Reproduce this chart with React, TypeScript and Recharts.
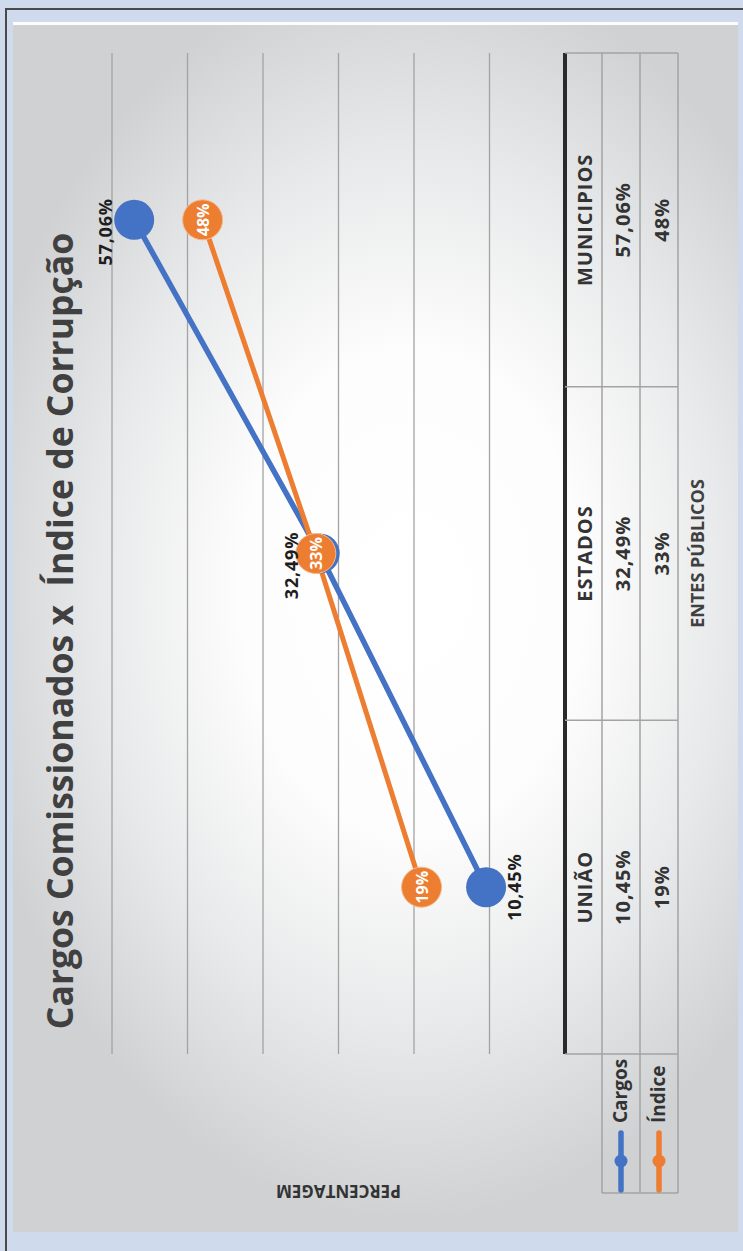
import { LineChart, Line, XAxis, YAxis, ReferenceLine, LabelList } from "recharts";

// data
const CATEGORIES = ["UNIÃO", "ESTADOS", "MUNICIPIOS"];
const CARGOS = [10.45, 32.49, 57.06];
const INDICE = [19, 33, 48];
const Y_TICKS = [0, 10, 20, 30, 40, 50, 60];
const SERIES_NAMES = ["Cargos", "Índice"];

const BLUE = "#4472C4";
const ORANGE = "#ED7D31";
const FONT = "'Open Sans', 'DejaVu Sans', sans-serif";

// the chart is drawn landscape and turned a quarter turn to the left
const W = 1251;
const H = 743;
const PLOT = { left: 197, right: 1198, top: 112, bottom: 565 };
const BAND = (PLOT.right - PLOT.left) / CATEGORIES.length;
const ROW = [PLOT.bottom, PLOT.bottom + 37, PLOT.bottom + 75, PLOT.bottom + 113];
const GRID = "#a3a3a3";

const data = CATEGORIES.map((name, i) => ({ name, cargos: CARGOS[i], indice: INDICE[i] }));

const fmtCargos = (v: number) => v.toFixed(2).replace(".", ",") + "%";
const fmtIndice = (v: number) => `${v}%`;

function TableTick(props: any) {
  const { x, index } = props;
  const l = x - BAND / 2;
  const r = x + BAND / 2;
  const txt = { fontFamily: FONT, fill: "#333", textAnchor: "middle" as const };
  return (
    <g>
      {[ROW[1], ROW[2], ROW[3]].map((y) => (
        <line key={y} x1={l} x2={r} y1={y} y2={y} stroke={GRID} strokeWidth={1.5} />
      ))}
      <line x1={r} x2={r} y1={ROW[0]} y2={ROW[3]} stroke={GRID} strokeWidth={1.5} />
      {index === 0 && <line x1={l} x2={l} y1={ROW[0]} y2={ROW[3]} stroke={GRID} strokeWidth={1.5} />}
      <text {...txt} x={x} y={ROW[0] + 27} fontSize={20} fontWeight={700} letterSpacing={1}>
        {CATEGORIES[index]}
      </text>
      <text {...txt} x={x} y={ROW[1] + 28} fontSize={20} fontWeight={700} letterSpacing={1}>
        {fmtCargos(CARGOS[index])}
      </text>
      <text {...txt} x={x} y={ROW[2] + 29} fontSize={20} fontWeight={700} letterSpacing={1}>
        {fmtIndice(INDICE[index])}
      </text>
      {index === 0 && (
        <g>
          {/* legend cells left of the table */}
          <line x1={l - 139} x2={l} y1={ROW[1]} y2={ROW[1]} stroke={GRID} strokeWidth={1.5} />
          <line x1={l - 139} x2={l} y1={ROW[2]} y2={ROW[2]} stroke={GRID} strokeWidth={1.5} />
          <line x1={l - 139} x2={l} y1={ROW[3]} y2={ROW[3]} stroke={GRID} strokeWidth={1.5} />
          <line x1={l - 139} x2={l - 139} y1={ROW[1]} y2={ROW[3]} stroke={GRID} strokeWidth={1.5} />
          {[BLUE, ORANGE].map((c, i) => {
            const cy = (ROW[i + 1] + ROW[i + 2]) / 2;
            return (
              <g key={c}>
                <line x1={l - 136} x2={l - 79} y1={cy} y2={cy} stroke={c} strokeWidth={5.5} strokeLinecap="round" />
                <circle cx={l - 107} cy={cy} r={6.5} fill={c} />
                <text x={l - 69} y={cy + 6} fontFamily={FONT} fontSize={19} fontWeight={700} fill="#333">
                  {SERIES_NAMES[i]}
                </text>
              </g>
            );
          })}
        </g>
      )}
    </g>
  );
}

function CargosLabel(props: any) {
  const { x, y, value, index } = props;
  const below = index === 0;
  return (
    <text
      x={below ? x : x - 12}
      y={below ? y + 35 : y - 22}
      textAnchor="middle"
      fontFamily={FONT}
      fontSize={18}
      fontWeight={700}
      letterSpacing={0.8}
      fill="#1e1e1e"
    >
      {fmtCargos(Number(value))}
    </text>
  );
}

function IndiceLabel(props: any) {
  const { x, y, value } = props;
  return (
    <text x={x} y={y + 6} textAnchor="middle" fontFamily={FONT} fontSize={16} fontWeight={700} fill="#fff">
      {fmtIndice(Number(value))}
    </text>
  );
}

function ValueTitle(props: any) {
  const vb = props.viewBox ?? { x: 0, y: PLOT.top, width: PLOT.left, height: PLOT.bottom - PLOT.top };
  const x = vb.x + 66;
  const y = vb.y + vb.height / 2;
  return (
    <text
      x={x}
      y={y}
      transform={`rotate(-90 ${x} ${y})`}
      textAnchor="middle"
      fontFamily={FONT}
      fontSize={17}
      fontWeight={700}
      fill="#333"
    >
      PERCENTAGEM
    </text>
  );
}

function CategoryTitle(props: any) {
  const vb = props.viewBox ?? { x: PLOT.left, y: PLOT.bottom, width: PLOT.right - PLOT.left, height: H - PLOT.bottom };
  return (
    <text
      x={vb.x + vb.width / 2}
      y={vb.y + 139}
      textAnchor="middle"
      fontFamily={FONT}
      fontSize={18}
      fontWeight={700}
      fill="#404040"
    >
      ENTES PÚBLICOS
    </text>
  );
}

export default function App() {
  return (
    <div style={{ position: "absolute", left: 0, top: 0, width: H, height: W, background: "#cfdbed", overflow: "hidden" }}>
      <div style={{ position: "absolute", left: 5, top: 8, width: 2, height: W - 8, background: "#4a4a4a" }} />
      <div style={{ position: "absolute", left: 5, top: 8, width: H - 5, height: 2, background: "#4a4a4a" }} />
      <div
        style={{
          position: "absolute",
          left: 13,
          top: 22,
          width: 725,
          height: 1210,
          borderTop: "3px solid #fdfdfd",
          boxSizing: "border-box",
          background:
            "radial-gradient(ellipse 62% 52% at 55% 47%, #ffffff 0%, #fdfdfd 38%, #e8e9ea 70%, #cfd1d3 100%)",
        }}
      />
      <div
        style={{
          position: "absolute",
          left: 0,
          top: 0,
          width: W,
          height: H,
          transformOrigin: "0 0",
          transform: `translateY(${W}px) rotate(-90deg)`,
        }}
      >
        <svg width={W} height={H} style={{ position: "absolute", left: 0, top: 0 }}>
          <text
            x={620}
            y={73}
            textAnchor="middle"
            fontFamily={FONT}
            fontSize={35.5}
            fontWeight={700}
            fill="#404040"
            style={{ whiteSpace: "pre" }}
          >
            Cargos Comissionados x  Índice de Corrupção
          </text>
        </svg>
        <div style={{ position: "absolute", left: 0, top: 0 }}>
          <LineChart width={W} height={H} data={data} margin={{ top: PLOT.top, right: W - PLOT.right, bottom: 0, left: 0 }}>
            {Y_TICKS.slice(1).map((t) => (
              <ReferenceLine key={t} y={t} stroke={GRID} strokeWidth={1.3} />
            ))}
            <XAxis
              dataKey="name"
              height={H - PLOT.bottom}
              padding={{ left: BAND / 2, right: BAND / 2 }}
              interval={0}
              tickLine={false}
              tickSize={0}
              axisLine={{ stroke: "#2a2a2a", strokeWidth: 4 }}
              tick={<TableTick />}
              label={<CategoryTitle />}
            />
            <YAxis
              width={PLOT.left}
              domain={[0, 60]}
              ticks={Y_TICKS}
              tick={false}
              tickLine={false}
              axisLine={false}
              label={<ValueTitle />}
            />
            <Line
              dataKey="cargos"
              name="Cargos"
              stroke={BLUE}
              strokeWidth={5.5}
              dot={{ r: 20, fill: BLUE, stroke: BLUE, strokeWidth: 0 }}
              activeDot={false}
              isAnimationActive={false}
            >
              <LabelList dataKey="cargos" content={<CargosLabel />} />
            </Line>
            <Line
              dataKey="indice"
              name="Índice"
              stroke={ORANGE}
              strokeWidth={5}
              dot={{ r: 20, fill: ORANGE, stroke: "#f5b98f", strokeWidth: 1 }}
              activeDot={false}
              isAnimationActive={false}
            >
              <LabelList dataKey="indice" content={<IndiceLabel />} />
            </Line>
          </LineChart>
        </div>
      </div>
    </div>
  );
}
